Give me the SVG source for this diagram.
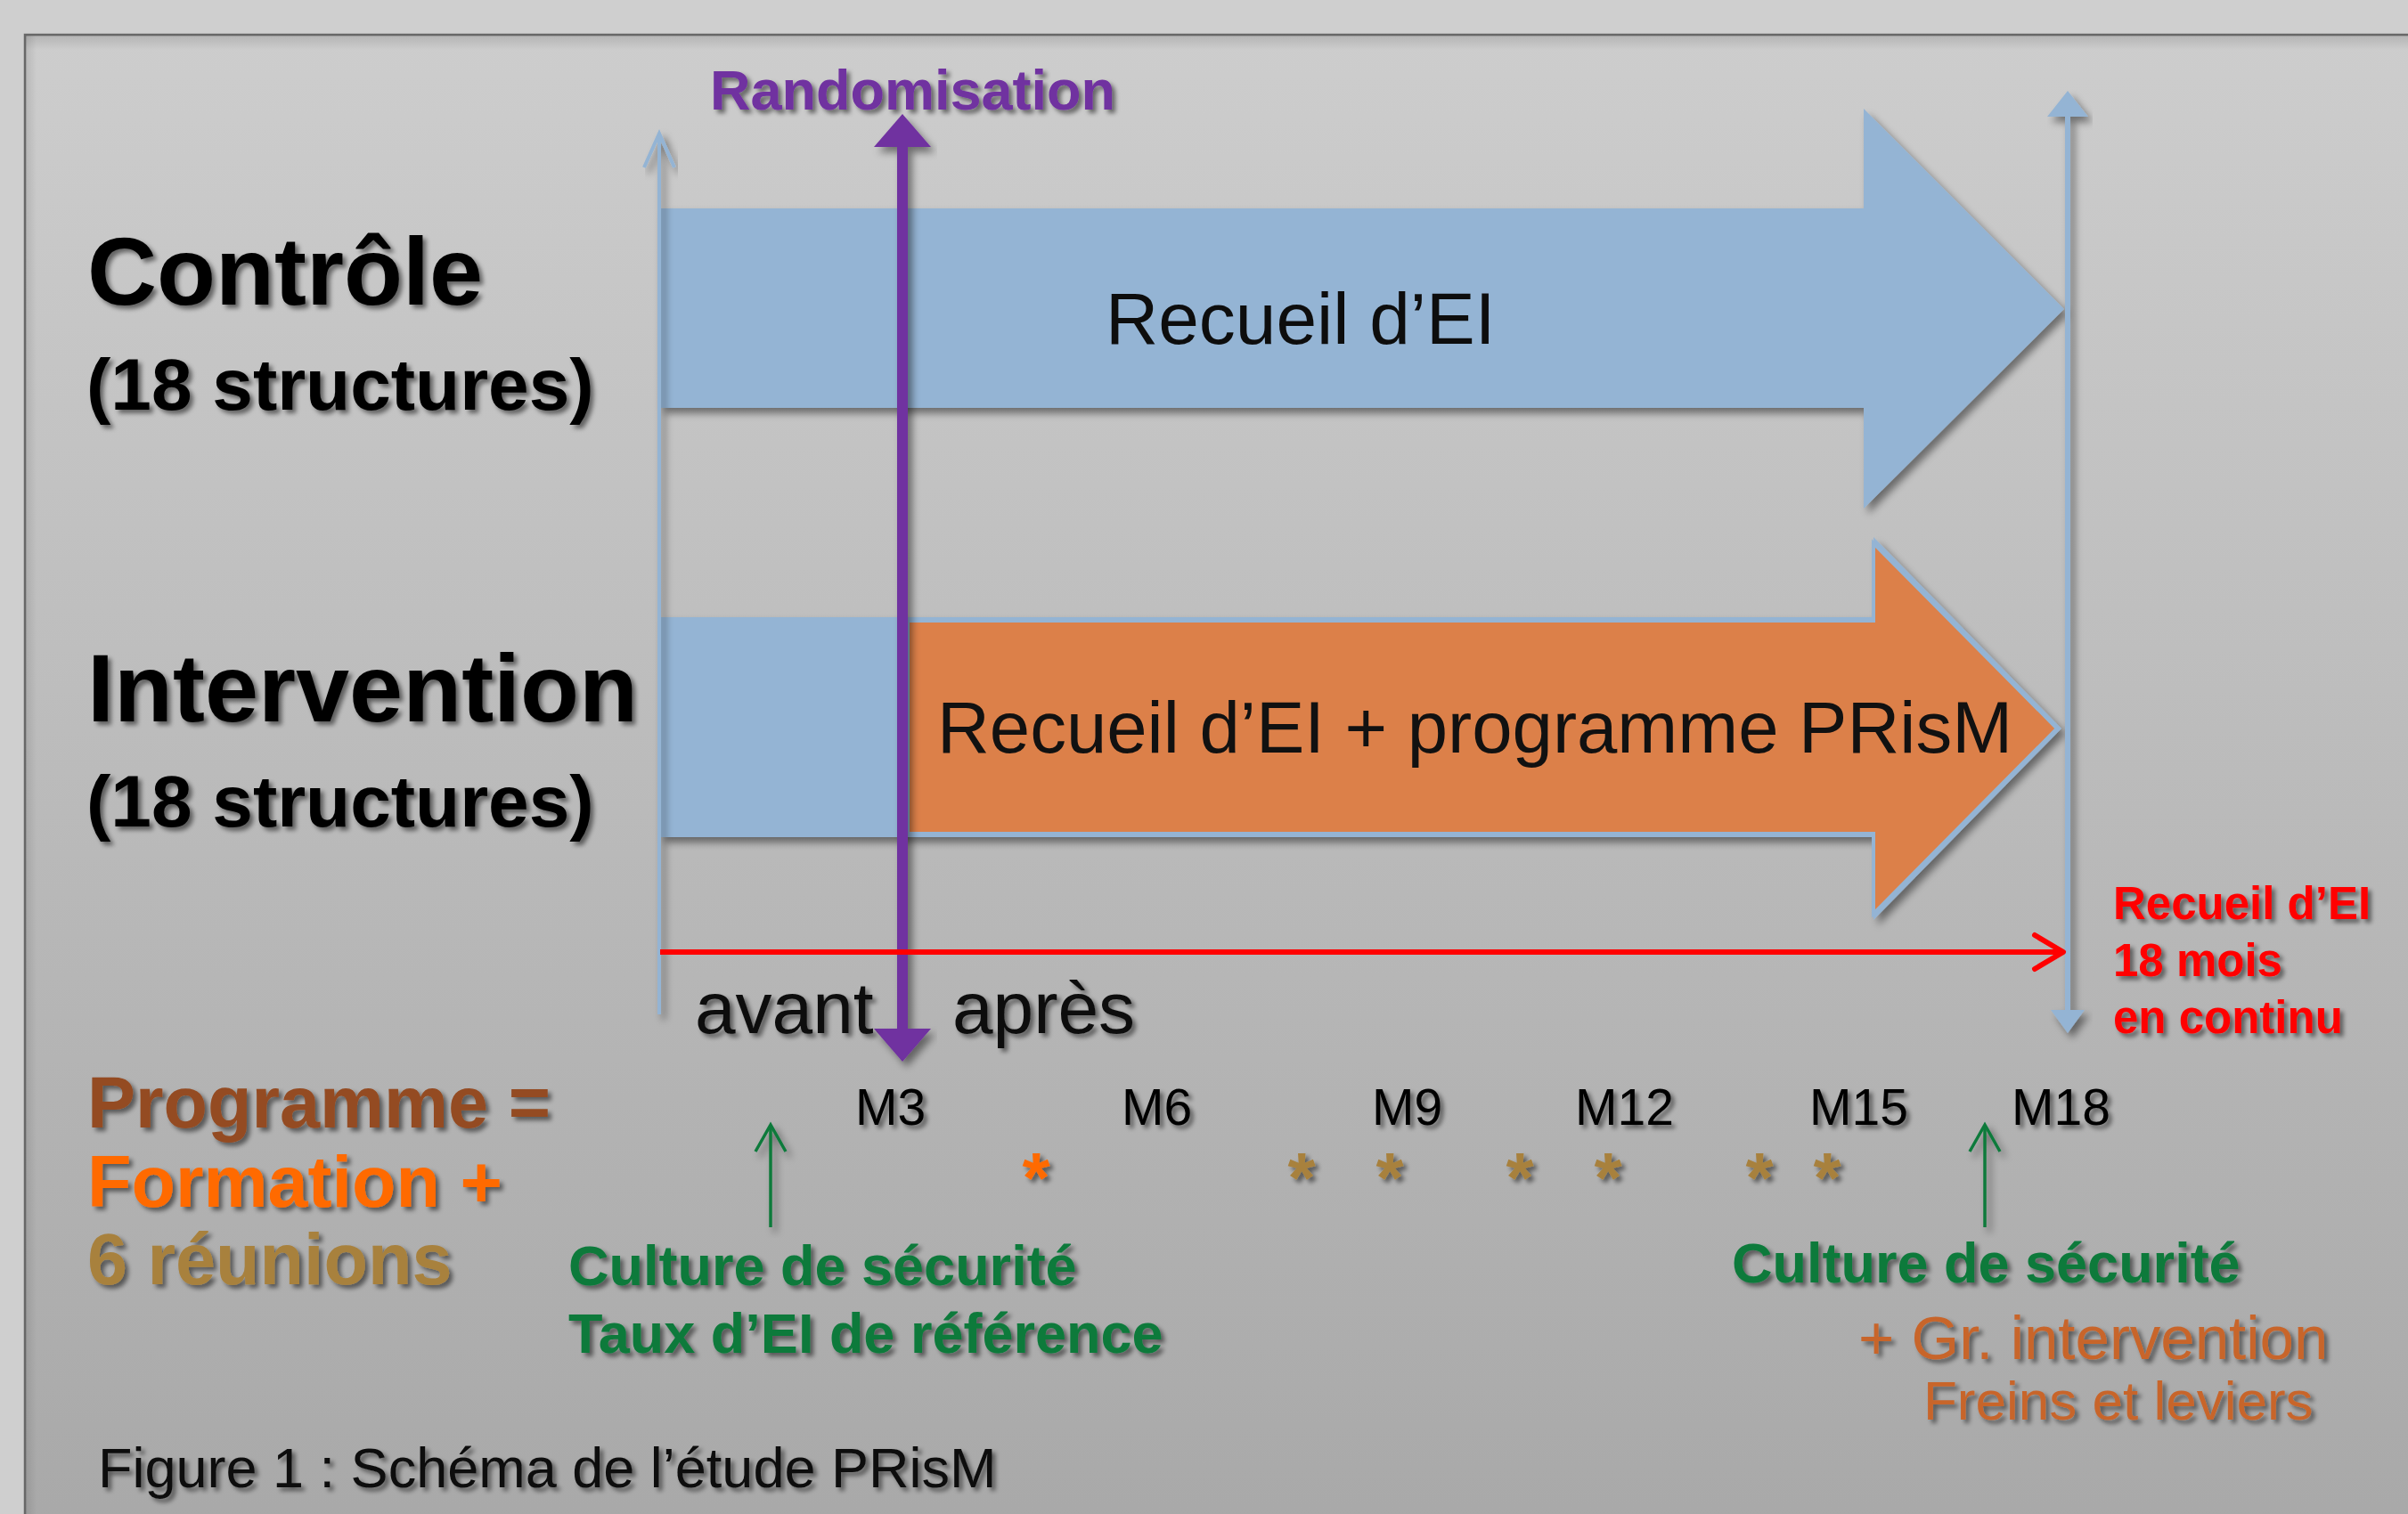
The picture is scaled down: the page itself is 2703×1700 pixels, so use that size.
<svg xmlns="http://www.w3.org/2000/svg" width="2703" height="1700" viewBox="0 0 2703 1700">
  <defs>
    <linearGradient id="bg" x1="0" y1="0" x2="0" y2="1">
      <stop offset="0" stop-color="#cdcdcd"/>
      <stop offset="1" stop-color="#a8a8a8"/>
    </linearGradient>
    <linearGradient id="innerTop" x1="0" y1="0" x2="0" y2="1">
      <stop offset="0" stop-color="#000" stop-opacity="0.12"/>
      <stop offset="1" stop-color="#000" stop-opacity="0"/>
    </linearGradient>
    <linearGradient id="innerLeft" x1="0" y1="0" x2="1" y2="0">
      <stop offset="0" stop-color="#000" stop-opacity="0.10"/>
      <stop offset="1" stop-color="#000" stop-opacity="0"/>
    </linearGradient>
    <filter id="ts" x="-10%" y="-30%" width="120%" height="160%">
      <feGaussianBlur in="SourceAlpha" stdDeviation="2.5"/>
      <feOffset dx="4" dy="4" result="b"/>
      <feFlood flood-color="#000" flood-opacity="0.5"/>
      <feComposite in2="b" operator="in"/>
      <feMerge><feMergeNode/><feMergeNode in="SourceGraphic"/></feMerge>
    </filter>
    <filter id="ss" x="-10%" y="-10%" width="120%" height="120%">
      <feGaussianBlur in="SourceAlpha" stdDeviation="4"/>
      <feOffset dx="5" dy="6" result="b"/>
      <feFlood flood-color="#000" flood-opacity="0.45"/>
      <feComposite in2="b" operator="in"/>
      <feMerge><feMergeNode/><feMergeNode in="SourceGraphic"/></feMerge>
    </filter>
    <style>
      text { font-family: "Liberation Sans", Arial, sans-serif; }
      .b { font-weight: bold; }
      .lbl { font-size: 108px; font-weight: bold; fill: #000; }
      .sub { font-size: 82px; font-weight: bold; fill: #000; }
      .arrowtxt { font-size: 82px; fill: #111; }
      .m { font-size: 57px; fill: #000; }
      .red { font-size: 51px; font-weight: bold; fill: #ff0000; }
      .green { font-size: 63px; font-weight: bold; fill: #0b7a3b; }
      .prog { font-size: 81px; font-weight: bold; }
      .ast { font-size: 80px; font-weight: bold; text-anchor: middle; }
      .gr { fill: #c8652c; }
      .blueline { stroke: #94b4d4; fill: none; }
    </style>
  </defs>

  <!-- background -->
  <rect x="0" y="0" width="2703" height="1700" fill="#cfcfcf"/>
  <rect x="28" y="39" width="2700" height="1700" fill="url(#bg)" stroke="#676767" stroke-width="2.5"/>
  <rect x="29" y="40" width="2674" height="16" fill="url(#innerTop)"/>
  <rect x="29" y="40" width="12" height="1660" fill="url(#innerLeft)"/>

  <!-- Contrôle arrow -->
  <g id="arrow-controle" filter="url(#ss)">
    <polygon points="741,234 2092,234 2092,122 2317,347 2092,571 2092,458 741,458" fill="#94b4d4"/>
    <text class="arrowtxt" x="1241" y="386" filter="none">Recueil d’EI</text>
  </g>

  <!-- Intervention arrow -->
  <g id="arrow-intervention">
    <g filter="url(#ss)">
      <polygon points="741,693 2103,693 2103,603 2314,818 2103,1033 2103,940 741,940" fill="#94b4d4"/>
    </g>
    <polygon points="1019,697 2103,697 2103,610 2309,818 2103,1026 2103,936 1019,936" fill="#dc8049" stroke="#94b4d4" stroke-width="4"/>
    <text class="arrowtxt" x="1052" y="845" style="font-size:81.5px">Recueil d’EI + programme PRisM</text>
  </g>

  <!-- connectors / axes -->
  <g id="connectors">
    <!-- left blue axis -->
    <g filter="url(#ss)">
      <line class="blueline" x1="740" y1="1139" x2="740" y2="152" stroke-width="4"/>
      <polyline class="blueline" points="723,188 740,150 757,188" stroke-width="4"/>
    </g>
    <!-- right blue axis -->
    <g filter="url(#ss)">
      <line x1="2321" y1="125" x2="2321" y2="1140" stroke="#94b4d4" stroke-width="6"/>
      <polygon points="2321,102 2298,131 2344,131" fill="#94b4d4"/>
      <polygon points="2321,1160 2302,1134 2340,1134" fill="#94b4d4"/>
    </g>
    <!-- purple randomisation -->
    <g filter="url(#ss)">
      <line x1="1013" y1="160" x2="1013" y2="1160" stroke="#7030a0" stroke-width="12"/>
      <polygon points="1013,128 981,165 1045,165" fill="#7030a0"/>
      <polygon points="1013,1192 981,1155 1045,1155" fill="#7030a0"/>
    </g>
    <!-- red timeline -->
    <g>
      <line x1="741" y1="1069" x2="2312" y2="1069" stroke="#ff0000" stroke-width="6"/>
      <polyline points="2284,1050 2316,1069 2284,1088" fill="none" stroke="#ff0000" stroke-width="6" stroke-linecap="round" stroke-linejoin="round"/>
    </g>
    <!-- green arrows -->
    <g filter="url(#ss)" stroke="#0b7a3b" stroke-width="3.5" fill="none">
      <line x1="865" y1="1378" x2="865" y2="1264"/>
      <polyline points="848,1293 865,1263 882,1293"/>
      <line x1="2228" y1="1378" x2="2228" y2="1264"/>
      <polyline points="2211,1293 2228,1263 2245,1293"/>
    </g>
  </g>

  <!-- labels -->
  <g id="label-controle" filter="url(#ts)">
    <text class="lbl" x="98" y="342">Contrôle</text>
    <text class="sub" x="97" y="460">(18 structures)</text>
  </g>
  <g id="label-intervention" filter="url(#ts)">
    <text class="lbl" x="98" y="810">Intervention</text>
    <text class="sub" x="97" y="928">(18 structures)</text>
  </g>
  <g id="label-randomisation" filter="url(#ts)">
    <text class="b" x="797" y="123" style="font-size:63px;fill:#7030a0">Randomisation</text>
  </g>
  <g id="label-avant-apres" filter="url(#ts)">
    <text class="arrowtxt" x="780" y="1160">avant</text>
    <text class="arrowtxt" x="1069" y="1160">après</text>
  </g>
  <g id="label-recueil-18" filter="url(#ts)">
    <text class="red" x="2372" y="1032">Recueil d’EI</text>
    <text class="red" x="2372" y="1096">18 mois</text>
    <text class="red" x="2372" y="1160">en continu</text>
  </g>
  <g id="months" filter="url(#ts)">
    <text class="m" x="960" y="1263">M3</text>
    <text class="m" x="1259" y="1263">M6</text>
    <text class="m" x="1540" y="1263">M9</text>
    <text class="m" x="1768" y="1263">M12</text>
    <text class="m" x="2031" y="1263">M15</text>
    <text class="m" x="2258" y="1263">M18</text>
  </g>
  <g id="meetings" filter="url(#ts)">
    <text class="ast" x="1163" y="1350" fill="#ff6a00">*</text>
    <text class="ast" x="1461" y="1350" fill="#a8813d">*</text>
    <text class="ast" x="1560" y="1350" fill="#a8813d">*</text>
    <text class="ast" x="1706" y="1350" fill="#a8813d">*</text>
    <text class="ast" x="1805" y="1350" fill="#a8813d">*</text>
    <text class="ast" x="1975" y="1350" fill="#a8813d">*</text>
    <text class="ast" x="2051" y="1350" fill="#a8813d">*</text>
  </g>
  <g id="label-programme" filter="url(#ts)">
    <text class="prog" x="98" y="1266" fill="#944b22">Programme =</text>
    <text class="prog" x="98" y="1355" fill="#ff6a00">Formation +</text>
    <text class="prog" x="98" y="1442" fill="#a8813d">6 réunions</text>
  </g>
  <g id="label-culture-left" filter="url(#ts)">
    <text class="green" x="638" y="1443">Culture de sécurité</text>
    <text class="green" x="638" y="1519">Taux d’EI de référence</text>
  </g>
  <g id="label-culture-right" filter="url(#ts)">
    <text class="green" x="1944" y="1440">Culture de sécurité</text>
    <text class="gr" x="2086" y="1526" style="font-size:69px">+ Gr. intervention</text>
    <text class="gr" x="2159" y="1594" style="font-size:62px">Freins et leviers</text>
  </g>
  <g id="caption" filter="url(#ts)">
    <text x="110" y="1670" style="font-size:63px;fill:#111">Figure 1 : Schéma de l’étude PRisM</text>
  </g>
</svg>
